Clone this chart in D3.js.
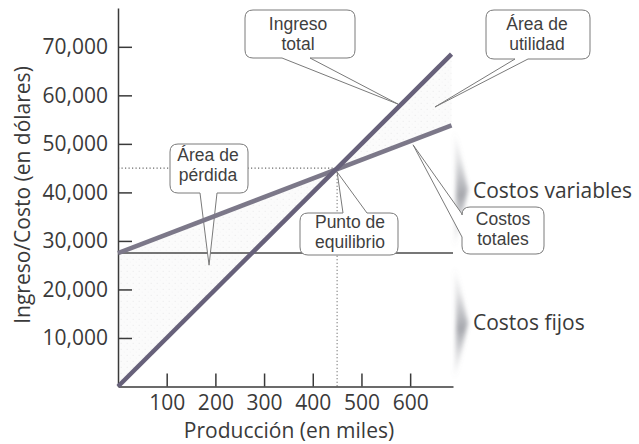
<!DOCTYPE html>
<html>
<head>
<meta charset="utf-8">
<script src="https://cdn.jsdelivr.net/npm/d3@7"></script>
<style>
  html, body { margin: 0; padding: 0; background: #fff; }
  svg { display: block; font-family: "Open Sans", "Liberation Sans", sans-serif; }
</style>
</head>
<body>
<svg id="chart" width="639" height="444"></svg>
<script>
// ---- data (production in thousands of units, amounts in dollars) ----
const production   = [0, 685];
const totalRevenue = [0, 68500];
const totalCost    = [27500, 53800];
const fixedCostQ   = [0, 688];
const fixedCost    = [27500, 27500];
const breakEvenQ   = 450;
const breakEvenV   = 45000;

const xTickValues = [100, 200, 300, 400, 500, 600];
const yTickValues = [10000, 20000, 30000, 40000, 50000, 60000, 70000];
const xTitle = "Producción (en miles)";
const yTitle = "Ingreso/Costo (en dólares)";

const calloutText = {
  ingreso:   ["Ingreso", "total"],
  utilidad:  ["Área de", "utilidad"],
  perdida:   ["Área de", "pérdida"],
  equilibrio:["Punto de", "equilibrio"],
  totales:   ["Costos", "totales"]
};
// what each callout points at, in data units [production, dollars]
const calloutTarget = {
  ingreso:   [575, 58200],
  utilidad:  [651, 57600],
  perdida:   [187, 25000],
  equilibrio:[450, 44200],
  totales:   [606, 49800]
};
const braceLabels = ["Costos variables", "Costos fijos"];

// ---- layout ----
const svg = d3.select("#chart");
const x = d3.scaleLinear().domain([0, 688]).range([118, 453]);
const y = d3.scaleLinear().domain([0, 78000]).range([386.5, 8]);

const ink = "#3a3a3a";
const revColor = "#67617a";
const costColor = "#7c7889";

const defs = svg.append("defs");
const pat = defs.append("pattern").attr("id", "stipple")
  .attr("width", 6).attr("height", 6).attr("patternUnits", "userSpaceOnUse");
pat.append("rect").attr("width", 6).attr("height", 6).attr("fill", "#fbfbfb");
pat.append("circle").attr("cx", 1.2).attr("cy", 1.3).attr("r", 0.55).attr("fill", "#e6e6e8");
pat.append("circle").attr("cx", 4.2).attr("cy", 4.1).attr("r", 0.45).attr("fill", "#ececee");

defs.append("filter").attr("id", "soft").attr("x", "-80%").attr("y", "-20%")
  .attr("width", "260%").attr("height", "140%")
  .append("feGaussianBlur").attr("stdDeviation", 2);

const grad = defs.append("linearGradient").attr("id", "braceGrad")
  .attr("x1", 0).attr("y1", 0).attr("x2", 0).attr("y2", 1);
[[0, 0], [0.25, 0.22], [0.55, 0.7], [0.78, 0.25], [1, 0]].forEach(([o, a]) =>
  grad.append("stop").attr("offset", o).attr("stop-color", "#80828a").attr("stop-opacity", a));

// ---- shaded loss / profit areas ----
const lossArea = [[production[0], totalRevenue[0]], [breakEvenQ, breakEvenV], [production[0], totalCost[0]]];
const profitArea = [[breakEvenQ, breakEvenV], [production[1], totalRevenue[1]], [production[1], totalCost[1]]];
const poly = d3.line().x(d => x(d[0])).y(d => y(d[1]));
svg.append("path").attr("d", poly(lossArea) + "Z").attr("fill", "url(#stipple)");
svg.append("path").attr("d", poly(profitArea) + "Z").attr("fill", "url(#stipple)");

// ---- soft braces on the right ----
function bracePath(xb, y0, y1, w) {
  const ym = (y0 + y1) / 2, h = (y1 - y0) / 2;
  return `M${xb},${y0} C${xb + w * 0.5},${y0 + h * 0.4} ${xb + w * 0.7},${ym - h * 0.3} ${xb + w},${ym}` +
         ` C${xb + w * 0.7},${ym + h * 0.3} ${xb + w * 0.5},${y1 - h * 0.4} ${xb},${y1}` +
         ` C${xb + w * 0.2},${ym} ${xb + w * 0.2},${ym} ${xb},${y0}Z`;
}
svg.append("path").attr("d", bracePath(x(688) + 1, y(totalCost[1]) + 4, y(fixedCost[0]) - 4, 14))
  .attr("fill", "url(#braceGrad)").attr("filter", "url(#soft)");
svg.append("path").attr("d", bracePath(x(688) + 1, y(fixedCost[0]) + 12, y(0) - 6, 14))
  .attr("fill", "url(#braceGrad)").attr("filter", "url(#soft)");

// ---- break-even guide lines ----
svg.append("line").attr("x1", x(0)).attr("x2", x(breakEvenQ))
  .attr("y1", y(breakEvenV)).attr("y2", y(breakEvenV))
  .attr("stroke", "#6a6a6a").attr("stroke-width", 1.2).attr("stroke-dasharray", "1.2,2.3");
svg.append("line").attr("x1", x(breakEvenQ)).attr("x2", x(breakEvenQ))
  .attr("y1", y(breakEvenV)).attr("y2", y(0))
  .attr("stroke", "#6a6a6a").attr("stroke-width", 1.2).attr("stroke-dasharray", "1.2,2.3");

// ---- fixed cost line ----
svg.append("path")
  .attr("d", poly(fixedCostQ.map((q, i) => [q, fixedCost[i]])))
  .attr("fill", "none").attr("stroke", "#4a4a4a").attr("stroke-width", 1.4);

// ---- axes ----
const yAxis = d3.axisLeft(y).tickValues(yTickValues).tickSizeInner(-14).tickSizeOuter(0)
  .tickPadding(10).tickFormat(d3.format(","));
const xAxis = d3.axisBottom(x).tickValues(xTickValues).tickSizeInner(-13).tickSizeOuter(0)
  .tickPadding(9);

const gy = svg.append("g").attr("transform", `translate(${x(0)},0)`).call(yAxis);
const gx = svg.append("g").attr("transform", `translate(0,${y(0)})`).call(xAxis);
[gx, gy].forEach(g => {
  g.selectAll("path.domain, .tick line").attr("stroke", ink).attr("stroke-width", 1.5);
  g.selectAll(".tick text").attr("fill", ink).attr("font-size", 21)
    .attr("font-family", '"Open Sans", sans-serif');
});

svg.append("text").attr("x", 289).attr("y", 438).attr("text-anchor", "middle")
  .attr("font-size", 21).attr("fill", ink).text(xTitle);
svg.append("text").attr("transform", "translate(30,195) rotate(-90)").attr("text-anchor", "middle")
  .attr("font-size", 21).attr("fill", ink).text(yTitle);

// ---- callouts: rounded boxes with a pointer wedge ----
function calloutPath(b, side, a0, a1, tip, r) {
  const [tx, ty] = tip;
  let d = `M${b.x0 + r},${b.y0}`;
  if (side === "top") d += ` L${a0},${b.y0} L${tx},${ty} L${a1},${b.y0}`;
  d += ` L${b.x1 - r},${b.y0} Q${b.x1},${b.y0} ${b.x1},${b.y0 + r}`;
  d += ` L${b.x1},${b.y1 - r} Q${b.x1},${b.y1} ${b.x1 - r},${b.y1}`;
  if (side === "bottom") d += ` L${a1},${b.y1} L${tx},${ty} L${a0},${b.y1}`;
  d += ` L${b.x0 + r},${b.y1} Q${b.x0},${b.y1} ${b.x0},${b.y1 - r}`;
  if (side === "left") d += ` L${b.x0},${a1} L${tx},${ty} L${b.x0},${a0}`;
  d += ` L${b.x0},${b.y0 + r} Q${b.x0},${b.y0} ${b.x0 + r},${b.y0}Z`;
  return d;
}

const calloutLayout = {
  ingreso:   { box: { x0: 245, y0: 10, x1: 355, y1: 58 }, side: "bottom", a: [282, 310], tx: 298, base: 30 },
  utilidad:  { box: { x0: 486, y0: 10, x1: 590, y1: 59 }, side: "bottom", a: [515, 528], tx: 537, base: 30 },
  perdida:   { box: { x0: 170, y0: 144, x1: 248, y1: 193 }, side: "bottom", a: [200, 217], tx: 208, base: 161 },
  equilibrio:{ box: { x0: 300, y0: 213, x1: 398, y1: 255 }, side: "top", a: [343, 367], tx: 350, base: 228 },
  totales:   { box: { x0: 462, y0: 207, x1: 544, y1: 254 }, side: "left", a: [214, 237], tx: 503, base: 225 }
};

const cg = svg.append("g");
Object.keys(calloutLayout).forEach(k => {
  const L = calloutLayout[k];
  const t = calloutTarget[k];
  cg.append("path")
    .attr("d", calloutPath(L.box, L.side, L.a[0], L.a[1], [x(t[0]), y(t[1])], 8))
    .attr("fill", "#fff").attr("stroke", "#7a7a7a").attr("stroke-width", 1)
    .attr("stroke-linejoin", "round");
});

// ---- revenue and total cost lines ----
svg.append("path").attr("d", poly(production.map((q, i) => [q, totalCost[i]])))
  .attr("fill", "none").attr("stroke", costColor).attr("stroke-width", 4.5);
svg.append("path").attr("d", poly(production.map((q, i) => [q, totalRevenue[i]])))
  .attr("fill", "none").attr("stroke", revColor).attr("stroke-width", 4.5);

// ---- callout text (two lines per label, compact face for tight leading) ----
Object.keys(calloutLayout).forEach(k => {
  const L = calloutLayout[k];
  const t = svg.append("text").attr("text-anchor", "middle")
    .attr("font-family", '"Liberation Sans", Arial, sans-serif')
    .attr("font-size", 17.5).attr("fill", "#3f3f3f");
  calloutText[k].forEach((s, i) => {
    t.append("tspan").attr("x", L.tx).attr("y", L.base + i * 19.8).text(s);
  });
});

// ---- brace labels ----
svg.append("text").attr("x", 473).attr("y", 198).attr("font-size", 21).attr("fill", ink).text(braceLabels[0]);
svg.append("text").attr("x", 473).attr("y", 330).attr("font-size", 21).attr("fill", ink).text(braceLabels[1]);
</script>
</body>
</html>
